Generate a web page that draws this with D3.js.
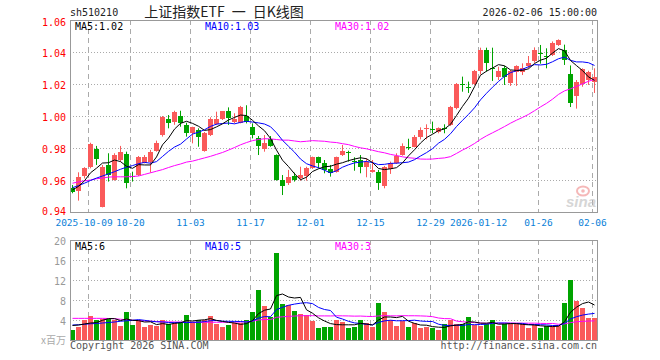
<!DOCTYPE html>
<html>
<head>
<meta charset="utf-8">
<script src="https://cdn.jsdelivr.net/npm/d3@7"></script>
<style>
  body { margin: 0; background: #fff; }
  text { font-family: "DejaVu Sans Mono", monospace; font-size: 10px; }
</style>
</head>
<body>
<script>
// trading days shown on the chart
var dates = [
  "2025-09-26","2025-09-29","2025-09-30","2025-10-09","2025-10-10","2025-10-13","2025-10-14","2025-10-15","2025-10-16","2025-10-17",
  "2025-10-20","2025-10-21","2025-10-22","2025-10-23","2025-10-24","2025-10-27","2025-10-28","2025-10-29","2025-10-30","2025-10-31",
  "2025-11-03","2025-11-04","2025-11-05","2025-11-06","2025-11-07","2025-11-10","2025-11-11","2025-11-12","2025-11-13","2025-11-14",
  "2025-11-17","2025-11-18","2025-11-19","2025-11-20","2025-11-21","2025-11-24","2025-11-25","2025-11-26","2025-11-27","2025-11-28",
  "2025-12-01","2025-12-02","2025-12-03","2025-12-04","2025-12-05","2025-12-08","2025-12-09","2025-12-10","2025-12-11","2025-12-12",
  "2025-12-15","2025-12-16","2025-12-17","2025-12-18","2025-12-19","2025-12-22","2025-12-23","2025-12-24","2025-12-25","2025-12-26",
  "2025-12-29","2025-12-30","2025-12-31","2026-01-05","2026-01-06","2026-01-07","2026-01-08","2026-01-09","2026-01-12","2026-01-13",
  "2026-01-14","2026-01-15","2026-01-16","2026-01-19","2026-01-20","2026-01-21","2026-01-22","2026-01-23","2026-01-26","2026-01-27",
  "2026-01-28","2026-01-29","2026-01-30","2026-02-02","2026-02-03","2026-02-04","2026-02-05","2026-02-06"
];

var open = [
  .9548,.953,.9625,.9683,.9794,.9433,.9694,.960,.9725,.9763,
  .9627,.9631,.9708,.9715,.9783,.9881,.9981,.9965,1.0,.9944,
  .9892,.9913,.9783,.9881,.995,.9981,1.0031,.9965,.9958,1.0,
  .9933,.986,.9792,.9856,.9756,.96,.9583,.9625,.961,.9625,
  .9673,.9742,.9708,.9667,.9652,.9756,.9773,.9721,.9725,.9683,
  .9652,.9652,.9563,.9667,.9704,.9756,.9808,.9808,.9867,.9917,
  .9919,.9902,.9925,.9944,1.0048,1.0202,1.018,1.02,1.0279,1.0413,
  1.03,1.0246,1.0298,1.0204,1.0275,1.0277,1.0315,1.0345,1.0394,1.0375,
  1.0381,1.0444,1.0413,1.0263,1.0128,1.02,1.0225,1.021
];
var high = [
  .9569,.9648,.968,.9833,.9813,.9694,.9767,.9767,.9813,.9777,
  .9652,.975,.9756,.9788,.9846,1.0,1.0006,1.0033,1.0033,.9958,
  .9933,.9923,.99,.9992,1.0027,1.0031,1.0054,1.0017,1.0063,1.0067,
  .9954,.9875,.9881,.9875,.976,.9631,.9663,.9646,.9683,.9683,
  .9746,.9746,.9725,.9694,.9746,.9819,.9783,.9742,.9756,.9735,
  .9725,.9663,.9688,.9715,.9767,.9829,.9858,.9881,.9929,.9948,
  .9965,.9929,.9948,1.0063,1.0206,1.0246,1.0215,1.0288,1.0427,1.0427,
  1.0427,1.0308,1.0313,1.0288,1.0317,1.0329,1.0375,1.0429,1.0444,1.0423,
  1.0466,1.0479,1.0446,1.0316,1.0225,1.0298,1.0283,1.0298
];
var low = [
  .9517,.9471,.961,.9673,.9694,.9429,.959,.9596,.9715,.9548,
  .959,.9625,.9704,.9646,.9777,.9871,.9923,.9945,.9933,.9871,
  .9829,.9808,.9777,.9875,.9944,.9975,.9944,.9954,.9954,.9954,
  .986,.9756,.9777,.9808,.9596,.9506,.9569,.959,.9596,.9596,
  .9669,.9673,.9642,.9621,.9646,.975,.9715,.9658,.9642,.9617,
  .9646,.9538,.9548,.9638,.97,.9752,.9788,.9804,.9854,.9854,
  .9892,.9892,.9892,.9938,1.0042,1.0152,1.0144,1.0194,1.026,1.0277,
  1.0219,1.0225,1.0194,1.0188,1.0188,1.0256,1.0298,1.0333,1.0327,1.0298,
  1.0375,1.0438,1.0319,1.0056,1.0046,1.0183,1.0194,1.0144
];
var close = [
  .9525,.962,.9673,.9825,.9729,.9683,.9631,.9756,.9777,.9583,
  .962,.9746,.9746,.9777,.9833,.9996,.9958,1.0027,.9958,.9896,
  .9933,.9867,.9896,.9981,.9981,1.0031,.9985,.9979,1.0054,.9965,
  .9881,.9813,.9829,.9813,.96,.9563,.9617,.96,.9631,.9673,
  .9742,.9704,.9663,.9646,.9742,.9783,.9769,.9717,.9683,.9715,
  .9663,.9583,.9683,.9704,.975,.9813,.9806,.9871,.9913,.9923,
  .9917,.9923,.9921,1.0054,1.02,1.02,1.0179,1.0281,1.0413,1.0329,
  1.0298,1.0283,1.0246,1.0283,1.0313,1.0298,1.0333,1.0413,1.039,1.0373,
  1.0454,1.0475,1.035,1.0083,1.0215,1.0295,1.0277,1.0245
];

// price moving averages as drawn
var ma5 = [
  .9538,.956,.9595,.9645,.9674,.9706,.9708,.9725,.9715,.9686,
  .9673,.9696,.9694,.9694,.9744,.982,.9862,.9918,.9954,.9967,
  .9954,.9936,.991,.9915,.9932,.9951,.9975,.9991,1.0006,1.0003,
  .9973,.9938,.9908,.986,.9787,.9724,.9684,.9639,.9602,.9617,
  .9653,.967,.9683,.9686,.9699,.9708,.9721,.9731,.9739,.9733,
  .9709,.9672,.9665,.967,.9677,.9707,.9751,.9789,.9831,.9865,
  .9886,.9909,.9919,.9948,1.0003,1.006,1.0111,1.0183,1.0255,1.028,
  1.03,1.0321,1.0314,1.0288,1.0285,1.0285,1.0295,1.0328,1.0349,1.0361,
  1.0393,1.0421,1.0408,1.0347,1.0315,1.0284,1.0244,1.0223
];
var ma10 = [
  .9552,.9565,.958,.9597,.9612,.9625,.9638,.9652,.9667,.968,
  .969,.9702,.971,.9705,.9715,.9747,.9779,.9806,.9824,.9856,
  .9887,.9899,.9914,.9935,.9949,.9953,.9956,.9951,.996,.9967,
  .9962,.9957,.995,.9933,.9895,.9848,.9811,.9774,.9731,.9702,
  .9688,.9677,.9661,.9644,.9658,.968,.9695,.9707,.9712,.9716,
  .9709,.9696,.9698,.9704,.9705,.9708,.9712,.9727,.975,.9771,
  .9796,.983,.9854,.9889,.9934,.9973,1.001,1.0051,1.0101,1.0142,
  1.018,1.0216,1.0248,1.0271,1.0283,1.0292,1.0308,1.0321,1.0319,1.0323,
  1.0339,1.0358,1.0368,1.0348,1.0338,1.0338,1.0333,1.0316
];
var ma30 = [
  .958,.9588,.9595,.960,.9608,.9612,.9618,.962,.962,.962,
  .9622,.9625,.9635,.9645,.9655,.9665,.9678,.969,.970,.9712,
  .9718,.9728,.9738,.9748,.976,.9772,.9787,.9803,.982,.9834,
  .9846,.9853,.9858,.9857,.9853,.9849,.9849,.9844,.9839,.9842,
  .9846,.9844,.9842,.9837,.9834,.9827,.9821,.981,.9801,.9795,
  .9786,.9777,.977,.976,.9753,.9745,.9739,.9736,.9731,.973,
  .9731,.9735,.9738,.9746,.9766,.9787,.9806,.9828,.9854,.9876,
  .9895,.9914,.9934,.9955,.9974,.9991,1.001,1.0033,1.0057,1.0079,
  1.0105,1.0135,1.0157,1.017,1.0185,1.0201,1.0217,1.0229
];

// volume, millions
var volume = [
  2.0,2.6,4.0,4.8,4.0,4.3,4.3,4.0,2.8,5.6,
  3.0,4.0,2.6,3.0,2.8,4.0,3.2,3.6,3.6,5.0,
  3.6,4.0,4.0,4.8,3.2,2.6,3.0,3.4,3.4,4.0,
  5.6,10.0,6.8,4.6,17.4,7.2,7.0,5.8,5.2,5.0,
  3.8,2.4,2.6,2.6,4.0,3.6,2.4,2.6,4.0,3.4,
  2.6,7.4,5.6,4.0,2.8,3.8,2.6,3.4,2.4,2.6,
  2.4,2.0,3.2,4.0,3.2,3.2,4.6,3.0,2.8,3.2,
  4.0,2.8,3.2,3.2,3.2,3.2,2.4,3.0,2.4,2.8,
  2.8,2.8,7.4,12.0,7.8,6.4,4.4,4.4
];
var volMa5 = [
  2.9,3.0,3.2,3.4,3.48,3.94,4.28,4.28,3.88,4.2,
  3.94,3.88,3.6,3.64,3.08,3.28,3.12,3.32,3.44,3.88,
  3.8,3.96,4.04,4.28,3.92,3.72,3.52,3.4,3.12,3.28,
  3.88,5.28,5.96,6.2,8.88,9.2,8.6,8.4,8.52,6.04,
  5.36,4.44,3.8,3.28,3.08,3.04,3.04,3.04,3.32,3.2,
  3.0,4.0,4.6,4.6,4.48,4.72,3.76,3.32,3.0,2.96,
  2.68,2.56,2.52,2.84,2.96,3.12,3.64,3.6,3.36,3.36,
  3.52,3.16,3.2,3.28,3.28,3.12,3.04,3.0,2.84,2.76,
  2.68,2.76,3.64,5.56,6.56,7.28,7.6,7.0
];
var volMa10 = [
  3.0,3.05,3.15,3.25,3.3,3.4,3.5,3.6,3.75,3.84,
  3.94,4.08,3.94,3.76,3.64,3.61,3.5,3.46,3.54,3.48,
  3.54,3.54,3.68,3.86,3.9,3.76,3.74,3.72,3.7,3.6,
  3.8,4.4,4.68,4.66,6.08,6.54,6.94,7.18,7.36,7.46,
  7.28,6.52,6.1,5.9,4.56,4.2,3.74,3.42,3.3,3.14,
  3.02,3.52,3.82,3.96,3.84,3.86,3.88,3.96,3.8,3.72,
  3.7,3.16,2.92,2.92,2.96,2.9,3.1,3.06,3.1,3.16,
  3.32,3.4,3.4,3.32,3.32,3.32,3.1,3.1,3.06,3.02,
  2.9,2.9,3.32,4.2,4.66,4.98,5.18,5.32
];
var volMa30 = [
  4.33,4.33,4.33,4.33,4.33,4.33,4.3,4.25,4.15,4.05,
  3.95,3.88,3.82,3.76,3.7,3.66,3.62,3.6,3.58,3.56,
  3.55,3.55,3.55,3.55,3.55,3.55,3.55,3.57,3.6,3.64,
  3.76,4.01,4.1,4.09,4.54,4.64,4.73,4.79,4.87,4.85,
  4.87,4.82,4.82,4.81,4.85,4.83,4.81,4.77,4.79,4.73,
  4.7,4.81,4.87,4.84,4.83,4.87,4.85,4.85,4.82,4.77,
  4.67,4.4,4.28,4.26,3.79,3.65,3.57,3.48,3.4,3.34,
  3.35,3.36,3.38,3.4,3.37,3.36,3.36,3.37,3.32,3.3,
  3.31,3.15,3.21,3.48,3.65,3.73,3.79,3.83
];

var priceTicks = [0.94, 0.96, 0.98, 1.00, 1.02, 1.04, 1.06];
var volTicks = [4, 8, 12, 16, 20];
var dateTicks = ["2025-10-09","2025-10-20","2025-11-03","2025-11-17","2025-12-01",
                 "2025-12-15","2025-12-29","2026-01-12","2026-01-26","2026-02-06"];
var dateLabels = ["2025-10-09","10-20","11-03","11-17","12-01",
                  "12-15","12-29","2026-01-12","01-26","02-06"];

var upColor = "#fa5a5a", downColor = "#00a400";
var gridColor = "#aaa", frameColor = "#999";

var svg = d3.select("body").append("svg")
  .attr("width", 660)
  .attr("height", 360);

var left = 70, right = 597;
var pTop = 20, pBottom = 212;
var vTop = 240, vBottom = 340;

var x = d3.scaleBand()
  .domain(dates)
  .range([left, right])
  .paddingInner(1 / 6)
  .paddingOuter(0);

var y = d3.scaleLinear().domain([0.94, 1.06]).range([pBottom, pTop]);
var yv = d3.scaleLinear().domain([0, 20]).range([vBottom, vTop]);

// ---- grids ----
function hGrid(vals, scale) {
  svg.append("g").selectAll("line")
    .data(vals)
    .enter().append("line")
    .attr("x1", left).attr("x2", right)
    .attr("y1", d => Math.round(scale(d)) + 0.5)
    .attr("y2", d => Math.round(scale(d)) + 0.5)
    .attr("stroke", gridColor)
    .attr("stroke-dasharray", "1,2");
}
hGrid(priceTicks.slice(1, -1), y);
hGrid(volTicks.slice(0, -1), yv);

[[pTop, pBottom], [vTop, vBottom]].forEach(function(r) {
  svg.append("g").selectAll("line")
    .data(dateTicks)
    .enter().append("line")
    .attr("x1", d => x(d) + 0.5).attr("x2", d => x(d) + 0.5)
    .attr("y1", r[0]).attr("y2", r[1])
    .attr("stroke", gridColor)
    .attr("stroke-dasharray", "5,4");
});

// ---- candles ----
var candles = svg.append("g").selectAll("g")
  .data(dates)
  .enter().append("g")
  .attr("fill", (d, i) => close[i] > open[i] ? upColor : downColor)
  .attr("stroke", (d, i) => close[i] > open[i] ? upColor : downColor);

candles.append("line")
  .attr("x1", d => x(d) + 2.5).attr("x2", d => x(d) + 2.5)
  .attr("y1", (d, i) => y(high[i]))
  .attr("y2", (d, i) => y(low[i]));

candles.append("rect")
  .attr("stroke", "none")
  .attr("shape-rendering", "crispEdges")
  .attr("x", d => x(d))
  .attr("width", x.bandwidth())
  .attr("y", (d, i) => y(Math.max(open[i], close[i])))
  .attr("height", (d, i) => Math.max(1, Math.abs(y(open[i]) - y(close[i]))));

// ---- volume bars ----
svg.append("g").selectAll("rect")
  .data(volume)
  .enter().append("rect")
  .attr("shape-rendering", "crispEdges")
  .attr("x", (d, i) => x(dates[i]))
  .attr("width", x.bandwidth())
  .attr("y", d => yv(d))
  .attr("height", d => vBottom - yv(d))
  .attr("fill", (d, i) => close[i] > open[i] ? upColor : downColor);

// ---- moving average lines ----
function maLine(vals, scale, color) {
  var line = d3.line()
    .x((d, i) => x(dates[i]) + 2.5)
    .y(d => scale(d));
  svg.append("path")
    .datum(vals)
    .attr("d", line)
    .attr("fill", "none")
    .attr("stroke", color)
    .attr("stroke-width", 1);
}
maLine(ma30, y, "#ff00ff");
maLine(ma10, y, "#0000ff");
maLine(ma5, y, "#000");
maLine(volMa30, yv, "#ff00ff");
maLine(volMa10, yv, "#0000ff");
maLine(volMa5, yv, "#000");

// ---- frames ----
svg.append("rect")
  .attr("x", left + 0.5).attr("y", pTop + 0.5)
  .attr("width", right - left).attr("height", pBottom - pTop)
  .attr("fill", "none").attr("stroke", frameColor);
svg.append("rect")
  .attr("x", left + 0.5).attr("y", vTop + 0.5)
  .attr("width", right - left).attr("height", vBottom - vTop)
  .attr("fill", "none").attr("stroke", frameColor);

// ---- axes ----
var priceAxis = svg.append("g")
  .attr("transform", `translate(${left}, 0.5)`)
  .call(d3.axisLeft(y).tickValues(priceTicks).tickSize(0).tickPadding(4)
    .tickFormat(d3.format(".2f")));
priceAxis.select(".domain").remove();
priceAxis.selectAll("text")
  .attr("fill", "#ff0000")
  .attr("dy", d => d === 0.94 ? "0.15em" : (d === 1.06 ? "0.5em" : "0.38em"))
  .style("font-family", "'DejaVu Sans Mono', monospace")
  .style("font-size", "10px");

var volAxis = svg.append("g")
  .attr("transform", `translate(${left}, 0.5)`)
  .call(d3.axisLeft(yv).tickValues(volTicks).tickSize(0).tickPadding(4)
    .tickFormat(d3.format("d")));
volAxis.select(".domain").remove();
volAxis.selectAll("text")
  .attr("fill", "#999")
  .attr("dy", "0.38em")
  .style("font-family", "'DejaVu Sans Mono', monospace")
  .style("font-size", "10px");

var dateAxis = svg.append("g")
  .attr("transform", `translate(-2, ${pBottom})`)
  .call(d3.axisBottom(x).tickValues(dateTicks).tickSize(0).tickPadding(7)
    .tickFormat((d, i) => dateLabels[i]));
dateAxis.select(".domain").remove();
dateAxis.selectAll("text")
  .attr("fill", "#0a7fd8")
  .style("font-family", "'DejaVu Sans Mono', monospace")
  .style("font-size", "9.5px");
// first label sits just left of its neighbour, as in the original
dateAxis.selectAll("text").filter((d, i) => i === 0).attr("dx", -4.5);

// ---- texts ----
svg.append("text").attr("x", 70).attr("y", 16).attr("fill", "#222").text("sh510210");
svg.append("text").attr("x", 224).attr("y", 17)
  .attr("text-anchor", "middle")
  .attr("fill", "#222")
  .style("font-family", "'Noto Sans CJK SC', sans-serif")
  .style("font-size", "14px")
  .style("white-space", "pre")
  .text("上证指数ETF\u2002一\u2002日K线图");
svg.append("text").attr("x", 597).attr("y", 16).attr("text-anchor", "end")
  .attr("fill", "#222").text("2026-02-06 15:00:00");

var legends = [
  {t: "MA5:1.02", c: "#000", x: 75, y: 30},
  {t: "MA10:1.03", c: "#0000ff", x: 205, y: 30},
  {t: "MA30:1.02", c: "#ff00ff", x: 335, y: 30},
  {t: "MA5:6", c: "#000", x: 75, y: 250},
  {t: "MA10:5", c: "#0000ff", x: 205, y: 250},
  {t: "MA30:3", c: "#ff00ff", x: 335, y: 250}
];
svg.append("g").selectAll("text")
  .data(legends)
  .enter().append("text")
  .attr("x", d => d.x).attr("y", d => d.y)
  .attr("fill", d => d.c)
  .text(d => d.t);

svg.append("text").attr("x", 66).attr("y", 344).attr("text-anchor", "end")
  .attr("fill", "#aaa")
  .style("font-family", "'Noto Sans CJK SC', sans-serif")
  .text("x百万");

svg.append("text").attr("x", 70).attr("y", 349).attr("fill", "#555")
  .text("Copyright 2026 SINA.COM");
svg.append("text").attr("x", 597).attr("y", 349).attr("text-anchor", "end")
  .attr("fill", "#555").text("http://finance.sina.com.cn");

// sina watermark
var mark = svg.append("g").attr("opacity", 0.6);
mark.append("ellipse").attr("cx", 583).attr("cy", 191).attr("rx", 6).attr("ry", 4.5)
  .attr("fill", "none").attr("stroke", "#f08a8a").attr("stroke-width", 2);
mark.append("circle").attr("cx", 583).attr("cy", 191).attr("r", 1.8).attr("fill", "#f08a8a");
mark.append("text").attr("x", 566).attr("y", 207)
  .attr("fill", "#bbb")
  .style("font-family", "'Liberation Sans', sans-serif")
  .style("font-size", "15px")
  .style("font-weight", "bold")
  .style("font-style", "italic")
  .text("sina");
</script>
</body>
</html>
